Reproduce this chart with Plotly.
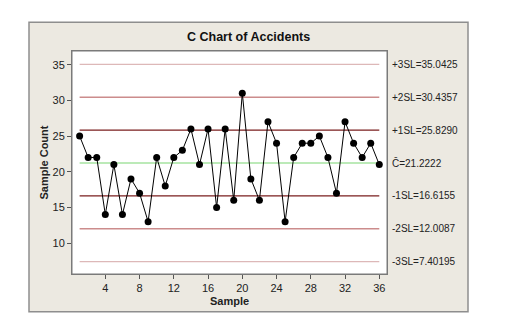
import plotly.graph_objects as go

samples = list(range(1, 37))
counts = [25, 22, 22, 14, 21, 14, 19, 17, 13, 22, 18, 22, 23, 26, 21, 26, 15, 26,
          16, 31, 19, 16, 27, 24, 13, 22, 24, 24, 25, 22, 17, 27, 24, 22, 24, 21]

limit_names = ["+3SL=35.0425", "+2SL=30.4357", "+1SL=25.8290", "C\u0304=21.2222",
               "-1SL=16.6155", "-2SL=12.0087", "-3SL=7.40195"]
limit_values = [35.0425, 30.4357, 25.8290, 21.2222, 16.6155, 12.0087, 7.40195]
limit_colors = ["#DDB8B8", "#CC8C8C", "#7A1E1E", "#A6E3A0", "#7A1E1E", "#CC8C8C", "#DDB8B8"]

x_ticks = [4, 8, 12, 16, 20, 24, 28, 32, 36]
y_ticks = [10, 15, 20, 25, 30, 35]

FONT = "Liberation Sans"
W, H = 516, 318
L, R, T, B = 72, 129, 51, 42
pw, ph = W - L - R, H - T - B

def px(xpix):
    return (xpix - L) / pw

def py(ypix):
    return (H - B - ypix) / ph

fig = go.Figure()

for v, c in zip(limit_values, limit_colors):
    fig.add_trace(go.Scatter(x=[samples[0], samples[-1]], y=[v, v], mode="lines",
                             line=dict(color=c, width=1.3), hoverinfo="skip",
                             showlegend=False))

fig.add_trace(go.Scatter(x=samples, y=counts, mode="lines+markers",
                         line=dict(color="black", width=1),
                         marker=dict(color="black", size=7),
                         showlegend=False))

shapes = [
    dict(type="rect", xref="paper", yref="paper", x0=px(29), x1=px(468), y0=py(314), y1=py(22),
         fillcolor="#ECE9E1", line=dict(color="#8E8E8E", width=1.5), layer="below"),
    dict(type="rect", xref="paper", yref="paper", x0=0, x1=1, y0=0, y1=1,
         fillcolor="white", line=dict(color="#7A7A7A", width=1), layer="below"),
]

annotations = [
    dict(text="<b>C Chart of Accidents</b>", xref="paper", yref="paper", x=px(248), y=py(37),
         xanchor="center", yanchor="middle", showarrow=False,
         font=dict(family=FONT, size=12.5, color="#111111")),
    dict(text="<b>Sample Count</b>", xref="paper", yref="paper", x=px(43), y=0.5,
         xanchor="center", yanchor="middle", showarrow=False, textangle=-90,
         font=dict(family=FONT, size=11, color="#222222")),
]
for name, v in zip(limit_names, limit_values):
    annotations.append(dict(text=name, xref="paper", yref="y", x=px(390), y=v,
                            xanchor="left", yanchor="middle", showarrow=False,
                            font=dict(family=FONT, size=10, color="#222222")))

fig.update_layout(
    width=W, height=H,
    margin=dict(l=L, r=R, t=T, b=B, pad=0),
    paper_bgcolor="white",
    plot_bgcolor="white",
    shapes=shapes,
    annotations=annotations,
    xaxis=dict(range=[0.11, 36.9], tickvals=x_ticks, ticks="outside", ticklen=4,
               tickcolor="#555555", showgrid=False, zeroline=False,
               showline=True, linecolor="#7A7A7A", mirror=True,
               tickfont=dict(family=FONT, size=11, color="#222222"),
               title=dict(text="<b>Sample</b>", standoff=4,
                          font=dict(family=FONT, size=11, color="#222222"))),
    yaxis=dict(range=[5.67, 36.92], tickvals=y_ticks, ticks="outside", ticklen=4,
               tickcolor="#555555", showgrid=False, zeroline=False,
               showline=True, linecolor="#7A7A7A", mirror=True,
               tickfont=dict(family=FONT, size=11, color="#222222")),
)

fig.write_html("out.html")
